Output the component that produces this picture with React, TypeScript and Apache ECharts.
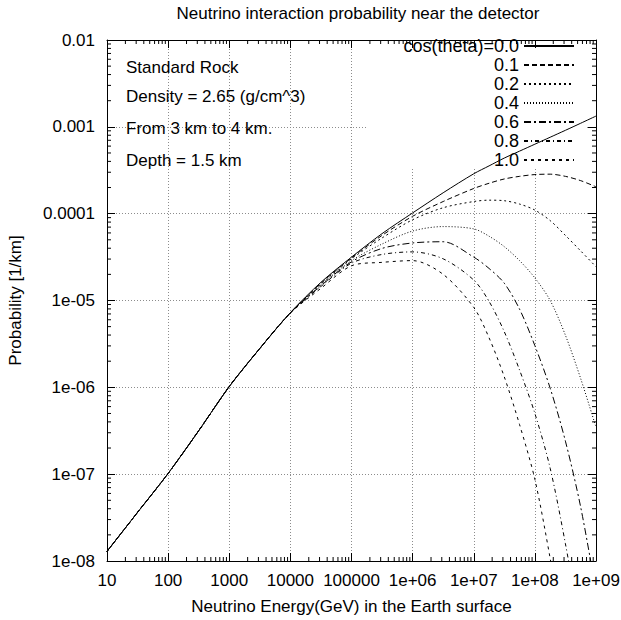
import React, { useEffect, useRef } from "react";
import * as echarts from "echarts";

// Neutrino energy (GeV) sample points read along the x axis
const energies = [
  1e1, 3.16e1, 1e2, 3.16e2, 1e3, 3.16e3, 1e4, 3.16e4, 1e5, 3.16e5, 1e6, 3.16e6,
  1e7, 1.78e7, 3.16e7, 5.62e7, 1e8, 1.78e8, 3.16e8, 5.62e8, 1e9,
];

// Probability [1/km] for each cos(theta)
const cos00 = [1.29e-8, 3.63e-8, 1.02e-7, 3.16e-7, 1.02e-6, 2.8e-6, 7.24e-6, 1.62e-5, 3.16e-5, 5.89e-5, 1.02e-4, 1.74e-4, 2.88e-4, 3.55e-4, 4.37e-4, 5.25e-4, 6.31e-4, 7.59e-4, 9.12e-4, 1.1e-3, 1.33e-3];
const cos01 = [1.29e-8, 3.63e-8, 1.02e-7, 3.16e-7, 1.02e-6, 2.8e-6, 7.24e-6, 1.58e-5, 3.09e-5, 5.62e-5, 9.33e-5, 1.38e-4, 1.95e-4, 2.24e-4, 2.51e-4, 2.69e-4, 2.82e-4, 2.85e-4, 2.69e-4, 2.4e-4, 2.04e-4];
const cos02 = [1.29e-8, 3.63e-8, 1.02e-7, 3.16e-7, 1.02e-6, 2.8e-6, 7.22e-6, 1.55e-5, 3.02e-5, 5.25e-5, 8.51e-5, 1.17e-4, 1.38e-4, 1.43e-4, 1.41e-4, 1.29e-4, 1.1e-4, 8.32e-5, 5.62e-5, 3.72e-5, 2.45e-5];
const cos04 = [1.29e-8, 3.63e-8, 1.02e-7, 3.16e-7, 1.02e-6, 2.8e-6, 7.2e-6, 1.51e-5, 2.88e-5, 4.47e-5, 6.31e-5, 7.1e-5, 6.68e-5, 5.5e-5, 4.17e-5, 2.88e-5, 1.82e-5, 1.0e-5, 3.98e-6, 1.26e-6, 3.47e-7];
const cos06 = [1.29e-8, 3.63e-8, 1.02e-7, 3.16e-7, 1.02e-6, 2.8e-6, 7.2e-6, 1.48e-5, 2.79e-5, 3.98e-5, 4.6e-5, 4.75e-5, 3.16e-5, 2.34e-5, 1.58e-5, 7.94e-6, 3.02e-6, 9.77e-7, 2.4e-7, 4.17e-8, 4.47e-9];
const cos08 = [1.29e-8, 3.63e-8, 1.02e-7, 3.16e-7, 1.02e-6, 2.8e-6, 7.18e-6, 1.45e-5, 2.69e-5, 3.39e-5, 3.63e-5, 3.02e-5, 1.72e-5, 9.77e-6, 4.37e-6, 1.58e-6, 5.01e-7, 1.17e-7, 1.58e-8, 1.58e-9, null];
const cos10 = [1.29e-8, 3.63e-8, 1.02e-7, 3.16e-7, 1.02e-6, 2.8e-6, 7.15e-6, 1.38e-5, 2.51e-5, 2.75e-5, 2.88e-5, 2.0e-5, 8.32e-6, 3.72e-6, 1.32e-6, 3.72e-7, 8.71e-8, 1.07e-8, 1e-9, null, null];

const seriesNames = ["cos(theta)=0.0", "0.1", "0.2", "0.4", "0.6", "0.8", "1.0"];
const seriesValues = [cos00, cos01, cos02, cos04, cos06, cos08, cos10];
const dashes: (string | number[])[] = ["solid", [5, 3], [2, 3], [1, 2], [7, 3, 2, 3], [4, 3, 1, 3], [3, 4]];

// Tick labels
const xTickLabels = ["10", "100", "1000", "10000", "100000", "1e+06", "1e+07", "1e+08", "1e+09"];
const yTickLabels = ["1e-08", "1e-07", "1e-06", "1e-05", "0.0001", "0.001", "0.01"];

const X_MIN = 1e1, X_MAX = 1e9, Y_MIN = 1e-8, Y_MAX = 1e-2;
const minorMultipliers = [2, 3, 4, 5, 6, 7, 8, 9];
const xDecades = [1e1, 1e2, 1e3, 1e4, 1e5, 1e6, 1e7, 1e8];
const yDecades = [1e-8, 1e-7, 1e-6, 1e-5, 1e-4, 1e-3];

const notes = ["Standard Rock", "Density = 2.65 (g/cm^3)", "From 3 km to 4 km.", "Depth = 1.5 km"];

const FONT = "Liberation Sans";

export default function App() {
  const ref = useRef<HTMLDivElement>(null);
  useEffect(() => {
    if (!ref.current) return;
    const chart = echarts.init(ref.current, undefined, { renderer: "svg" });

    const xMinor: number[][] = [];
    xDecades.forEach((d) => minorMultipliers.forEach((m) => xMinor.push([d * m, Y_MIN])));
    const yMinor: number[][] = [];
    yDecades.forEach((d) => minorMultipliers.forEach((m) => yMinor.push([X_MIN, d * m])));

    const tickStyle = { stroke: "#000", lineWidth: 1 };
    const MINOR = 4;

    const axisCommon = {
      type: "log" as const,
      logBase: 10,
      axisLine: { show: true, onZero: false, lineStyle: { color: "#000", width: 1 } },
      axisTick: { show: true, inside: true, length: 8, lineStyle: { color: "#000" } },
      minorTick: { show: false },
    };

    const gridLine = { show: true, lineStyle: { color: "#8c8c8c", type: [1, 2], width: 1 } };

    const option: any = {
      animation: false,
      textStyle: { fontFamily: FONT, color: "#000" },
      title: {
        text: "Neutrino interaction probability near the detector",
        left: 353,
        top: 0,
        textAlign: "center",
        textStyle: { fontFamily: FONT, fontSize: 17, fontWeight: "normal", color: "#000" },
      },
      grid: { left: 107, right: 25, top: 40, bottom: 59, containLabel: false, outerBoundsMode: "none" },
      legend: {
        data: seriesNames,
        orient: "vertical",
        align: "right",
        right: 46,
        top: 37,
        padding: 0,
        itemWidth: 50,
        itemHeight: 16,
        itemGap: 1,
        selectedMode: false,
        itemStyle: { opacity: 0 },
        textStyle: { fontFamily: FONT, fontSize: 18, color: "#000", lineHeight: 16 },
      },
      xAxis: [
        {
          ...axisCommon,
          min: X_MIN,
          max: X_MAX,
          splitNumber: 8,
          position: "bottom",
          name: "Neutrino Energy(GeV) in the Earth surface",
          nameLocation: "middle",
          nameGap: 37,
          nameTextStyle: { fontFamily: FONT, fontSize: 17, color: "#000" },
          axisLabel: {
            margin: 11,
            fontFamily: FONT,
            fontSize: 17,
            color: "#000",
            formatter: (v: number) => xTickLabels[Math.round(Math.log10(v)) - 1] ?? "",
          },
          splitLine: gridLine,
        },
        {
          ...axisCommon,
          min: X_MIN,
          max: X_MAX,
          splitNumber: 8,
          position: "top",
          axisLabel: { show: false },
          splitLine: { show: false },
        },
      ],
      yAxis: [
        {
          ...axisCommon,
          min: Y_MIN,
          max: Y_MAX,
          splitNumber: 6,
          position: "left",
          name: "Probability [1/km]",
          nameLocation: "middle",
          nameGap: 83,
          nameRotate: 90,
          nameTextStyle: { fontFamily: FONT, fontSize: 17, color: "#000" },
          axisLabel: {
            margin: 12,
            fontFamily: FONT,
            fontSize: 17,
            color: "#000",
            formatter: (v: number) => yTickLabels[Math.round(Math.log10(v)) + 8] ?? "",
          },
          splitLine: gridLine,
        },
        {
          ...axisCommon,
          min: Y_MIN,
          max: Y_MAX,
          splitNumber: 6,
          position: "right",
          axisLabel: { show: false },
          splitLine: { show: false },
        },
      ],
      graphic: [
        {
          type: "rect",
          z: 1,
          silent: true,
          shape: { x: 368, y: 49, width: 218, height: 119 },
          style: { fill: "#fff" },
        },
        ...notes.map((t, i) => ({
          type: "text",
          z: 5,
          x: 126,
          y: [67, 96, 128, 160][i],
          style: { text: t, fontFamily: FONT, fontSize: 17, fill: "#000", verticalAlign: "middle" },
        })),
      ],
      series: [
        ...seriesNames.map((name, i) => ({
          name,
          type: "line",
          xAxisIndex: 0,
          yAxisIndex: 0,
          data: energies.map((e, j) => [e, seriesValues[i][j]]),
          showSymbol: false,
          symbol: "none",
          smooth: 0.3,
          clip: true,
          z: 3,
          lineStyle: { color: "#000", width: 1, type: dashes[i] },
          itemStyle: { color: "#000" },
        })),
        {
          type: "custom",
          xAxisIndex: 0,
          yAxisIndex: 0,
          silent: true,
          z: 3,
          data: xMinor,
          renderItem: (_p: any, api: any) => {
            const v = api.value(0);
            const b = api.coord([v, Y_MIN]);
            const t = api.coord([v, Y_MAX]);
            return {
              type: "group",
              children: [
                { type: "line", shape: { x1: b[0], y1: b[1], x2: b[0], y2: b[1] - MINOR }, style: tickStyle },
                { type: "line", shape: { x1: t[0], y1: t[1], x2: t[0], y2: t[1] + MINOR }, style: tickStyle },
              ],
            };
          },
        },
        {
          type: "custom",
          xAxisIndex: 0,
          yAxisIndex: 0,
          silent: true,
          z: 3,
          data: yMinor,
          renderItem: (_p: any, api: any) => {
            const v = api.value(1);
            const l = api.coord([X_MIN, v]);
            const r = api.coord([X_MAX, v]);
            return {
              type: "group",
              children: [
                { type: "line", shape: { x1: l[0], y1: l[1], x2: l[0] + MINOR, y2: l[1] }, style: tickStyle },
                { type: "line", shape: { x1: r[0], y1: r[1], x2: r[0] - MINOR, y2: r[1] }, style: tickStyle },
              ],
            };
          },
        },
      ],
    };
    chart.setOption(option);
    return () => chart.dispose();
  }, []);
  return <div ref={ref} style={{ position: "absolute", left: 0, top: 0, width: 621, height: 620, background: "#fff" }} />;
}
